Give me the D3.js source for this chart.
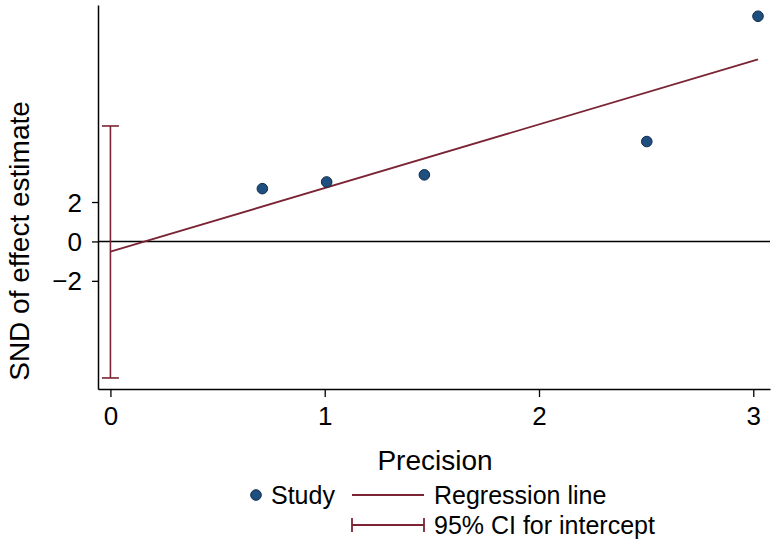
<!DOCTYPE html>
<html><head><meta charset="utf-8">
<script src="https://cdn.jsdelivr.net/npm/d3@7"></script>
<style>body{margin:0;background:#fff}svg{display:block}text{font-family:"Liberation Sans",Arial,Helvetica,sans-serif}</style>
</head><body><div id="chart"></div>
<script>
const precision = [0.709, 1.009, 1.465, 2.503, 3.022];
const snd = [2.68, 3.02, 3.38, 5.07, 11.43];
const regIntercept = -0.52;
const regSlope = 3.23;
const ciIntercept = [-6.93, 5.86];
const xTicks = [0, 1, 2, 3];
const yTicks = [-2, 0, 2];
const legendLabels = ["Study", "Regression line", "95% CI for intercept"];

const W = 784, H = 540;
const maroon = "#7a2434", dotFill = "#1f4f7e", dotStroke = "#0e2b4d";
const svg = d3.select("#chart").append("svg").attr("width", W).attr("height", H);
const x = d3.scaleLinear().domain([-0.058, 3.078]).range([98, 770]);
const y = d3.scaleLinear().domain([-7.49, 12.0]).range([389, 5]);

// axes
const xAxis = svg.append("g").attr("transform", `translate(0,${y.range()[0]})`)
  .call(d3.axisBottom(x).tickValues(xTicks).tickFormat(d3.format("d")).tickSize(8).tickPadding(10).tickSizeOuter(0));
const yAxis = svg.append("g").attr("transform", `translate(${x.range()[0]},0)`)
  .call(d3.axisLeft(y).tickValues(yTicks).tickFormat(d => d < 0 ? "\u2212" + Math.abs(d) : d).tickSize(6).tickPadding(10).tickSizeOuter(0));
[xAxis, yAxis].forEach(g => {
  g.select(".domain").attr("stroke", "#000").attr("stroke-width", 1.5);
  g.selectAll(".tick line").attr("stroke", "#000").attr("stroke-width", 1.3);
  g.selectAll(".tick text").attr("font-size", 26).attr("fill", "#000")
    .style("font-family", '"Liberation Sans",Arial,sans-serif');
});
yAxis.selectAll(".tick text").attr("dy", "0.35em");

// zero line
svg.append("line").attr("x1", x.range()[0]).attr("x2", x.range()[1])
  .attr("y1", y(0)).attr("y2", y(0)).attr("stroke", "#000").attr("stroke-width", 1.5);

// CI for intercept
const cap = 8.5;
const ci = svg.append("g").attr("stroke", maroon).attr("stroke-width", 1.6);
ci.append("line").attr("x1", x(0)).attr("x2", x(0)).attr("y1", y(ciIntercept[0])).attr("y2", y(ciIntercept[1]));
ciIntercept.forEach(v => ci.append("line").attr("x1", x(0) - cap).attr("x2", x(0) + cap).attr("y1", y(v)).attr("y2", y(v)));

// regression line
const xMax = d3.max(precision);
svg.append("line").attr("x1", x(0)).attr("y1", y(regIntercept))
  .attr("x2", x(xMax)).attr("y2", y(regIntercept + regSlope * xMax))
  .attr("stroke", maroon).attr("stroke-width", 1.8);

// points
svg.append("g").selectAll("circle").data(precision).join("circle")
  .attr("cx", d => x(d)).attr("cy", (d, i) => y(snd[i])).attr("r", 5.3)
  .attr("fill", dotFill).attr("stroke", dotStroke).attr("stroke-width", 1);

// axis titles
svg.append("text").attr("x", 435).attr("y", 470).attr("text-anchor", "middle")
  .attr("font-size", 28).text("Precision");
svg.append("text").attr("transform", "translate(29,241) rotate(-90)").attr("text-anchor", "middle")
  .attr("font-size", 28).text("SND of effect estimate");

// legend
const lg = svg.append("g");
lg.append("circle").attr("cx", 256).attr("cy", 495).attr("r", 5.3).attr("fill", dotFill).attr("stroke", dotStroke);
lg.append("text").attr("x", 271).attr("y", 504).attr("font-size", 25).text(legendLabels[0]);
lg.append("line").attr("x1", 352).attr("x2", 424).attr("y1", 495).attr("y2", 495).attr("stroke", maroon).attr("stroke-width", 1.8);
lg.append("text").attr("x", 434).attr("y", 504).attr("font-size", 25).text(legendLabels[1]);
const lc = lg.append("g").attr("stroke", maroon).attr("stroke-width", 1.8);
lc.append("line").attr("x1", 352).attr("x2", 424).attr("y1", 525).attr("y2", 525);
[352, 424].forEach(px => lc.append("line").attr("x1", px).attr("x2", px).attr("y1", 518).attr("y2", 532));
lg.append("text").attr("x", 434).attr("y", 534).attr("font-size", 25).text(legendLabels[2]);
</script></body></html>
